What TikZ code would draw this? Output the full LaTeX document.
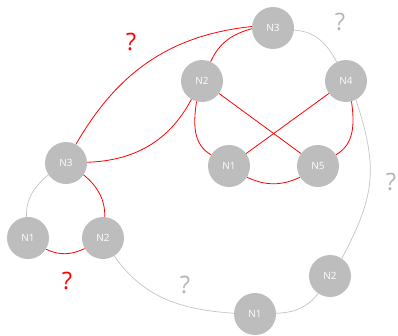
\documentclass[tikz,border=0pt]{standalone}
\usepackage{fontspec}
\setmainfont{Open Sans}
\begin{document}
\begin{tikzpicture}[x=1pt,y=-1pt,
  vertex/.style={circle,fill=nodegray,text=white,minimum size=42pt,inner sep=0pt,font=\fontsize{10}{12}\selectfont},
  redlink/.style={draw=red,line width=0.8pt},
  graylink/.style={draw=linkgray,line width=0.7pt},
  query/.style={font=\fontsize{24}{28}\selectfont,inner sep=0pt},
]
\definecolor{nodegray}{HTML}{BDBDBD}
\definecolor{linkgray}{HTML}{C4C4C4}
\definecolor{querygray}{HTML}{B4B4B4}
\useasboundingbox (0,0) rectangle (398,335);

% upper ring of five
\node[vertex] (t3) at (273,28) {N3};
\node[vertex] (t2) at (202,81) {N2};
\node[vertex] (t4) at (346,81) {N4};
\node[vertex] (t1) at (229,166) {N1};
\node[vertex] (t5) at (318,166) {N5};

% left triangle
\node[vertex] (l3) at (66,163) {N3};
\node[vertex] (l1) at (28,238) {N1};
\node[vertex] (l2) at (103,238) {N2};

% lower pair
\node[vertex] (b2) at (330,276) {N2};
\node[vertex] (b1) at (255,314) {N1};

% question marks
\node[query,text=red] (q1) at (131,42) {?};
\node[query,text=red] (q2) at (67,281) {?};
\node[query,text=querygray] (q3) at (340,22) {?};
\node[query,text=querygray] (q4) at (391,182) {?};
\node[query,text=querygray] (q5) at (185,285) {?};

% red links
\draw[redlink] (l3.62) to[out=60,in=186] (t3.176);
\draw[redlink] (l3.2) to[out=2,in=242] (t2.240);
\draw[redlink] (t3.182) to[out=195,in=65] (t2.66);
\draw[redlink] (t2) -- (t5);
\draw[redlink] (t4) -- (t1);
\draw[redlink] (t2.255) to[out=262,in=150] (t1.148);
\draw[redlink] (t4.285) to[out=278,in=30] (t5.32);
\draw[redlink] (t1.-32) to[out=-25,in=205] (t5.212);
\draw[redlink] (l3.-34) to[out=-40,in=90] (l2.85);
\draw[redlink] (l1.-32) to[out=-25,in=205] (l2.210);

% gray links
\draw[graylink] (t3.-6) to[out=-2,in=118] (t4.116);
\draw[graylink] (t4.-62) to[out=-72,in=62,looseness=1.15] (b2.56);
\draw[graylink] (b2.236) to[out=232,in=2] (b1.2);
\draw[graylink] (l2.-58) to[out=-55,in=176] (b1.178);
\draw[graylink] (l3.214) to[out=220,in=92] (l1.94);
\end{tikzpicture}
\end{document}
